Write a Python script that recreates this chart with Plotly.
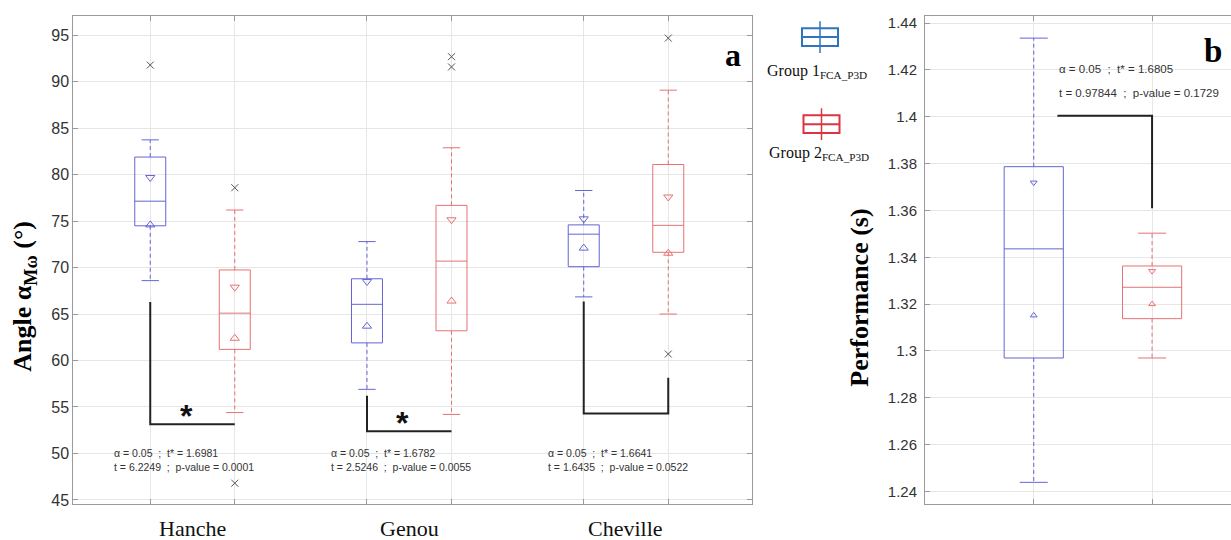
import plotly.graph_objects as go

# ---------------- data: panel a ----------------
categories = ["Hanche", "Genou", "Cheville"]

g1_q1 = [74.5, 61.9, 70.1]
g1_med = [77.15, 66.05, 73.6]
g1_q3 = [81.9, 68.8, 74.6]
g1_lo = [68.6, 56.9, 66.85]
g1_hi = [83.75, 72.8, 78.3]
g1_notch_lo = [74.6, 63.7, 72.1]
g1_notch_hi = [79.7, 68.5, 75.25]
g1_outliers = [[91.8], [], []]

g2_q1 = [61.2, 63.2, 71.65]
g2_med = [65.1, 70.7, 74.55]
g2_q3 = [69.75, 76.7, 81.1]
g2_lo = [54.4, 54.2, 65.0]
g2_hi = [76.2, 82.9, 89.1]
g2_notch_lo = [62.4, 66.4, 71.55]
g2_notch_hi = [67.9, 75.15, 77.6]
g2_outliers = [[78.6, 46.8], [92.7, 91.6], [94.7, 60.7]]

t_crit = ["1.6981", "1.6782", "1.6641"]
t_val = ["6.2249", "2.5246", "1.6435"]
p_val = ["0.0001", "0.0055", "0.0522"]
alpha = "0.05"
significant = [True, True, False]
bracket_left_top = [66.3, 56.2, 66.35]
bracket_base = [53.15, 52.4, 54.3]
bracket_right_top = [None, None, 58.15]

# ---------------- data: panel b ----------------
perf_q1 = [1.297, 1.3138]
perf_med = [1.3436, 1.3272]
perf_q3 = [1.3787, 1.3363]
perf_lo = [1.2439, 1.297]
perf_hi = [1.4336, 1.3503]
perf_notch_lo = [1.3152, 1.32]
perf_notch_hi = [1.3719, 1.3341]
perf_t_crit = "1.6805"
perf_t_val = "0.97844"
perf_p_val = "0.1729"
perf_bracket_top = 1.4005
perf_bracket_bottom = 1.361

legend_names = ["Group 1<sub>FCA_P3D</sub>", "Group 2<sub>FCA_P3D</sub>"]

# ---------------- styles ----------------
BLUE = "#6464d6"
RED = "#e67272"
GRAY_OUT = "#555555"
FRAME = "#9a9a9a"
GRID = "#e6e6e6"
SANS = "Liberation Sans"
SERIF = "Liberation Serif"
W_PX, H_PX = 1231, 540

fig = go.Figure()


def add_boxes(xs, q1, med, q3, lo, hi, nlo, nhi, outl, color, xa, ya, bw, cap, msize):
    fig.add_trace(go.Box(
        x=xs, q1=q1, median=med, q3=q3, lowerfence=q1, upperfence=q3,
        width=bw, whiskerwidth=0, boxpoints=False,
        line=dict(color=color, width=1), fillcolor="rgba(0,0,0,0)",
        xaxis=xa, yaxis=ya, showlegend=False, hoverinfo="skip"))
    wx, wy, cx, cy = [], [], [], []
    for x, a, b, l, h in zip(xs, q1, q3, lo, hi):
        wx += [x, x, None, x, x, None]
        wy += [b, h, None, a, l, None]
        cx += [x - cap / 2, x + cap / 2, None, x - cap / 2, x + cap / 2, None]
        cy += [h, h, None, l, l, None]
    fig.add_trace(go.Scatter(x=wx, y=wy, mode="lines",
                             line=dict(color=color, width=1, dash="4px,3px"),
                             xaxis=xa, yaxis=ya, showlegend=False, hoverinfo="skip"))
    fig.add_trace(go.Scatter(x=cx, y=cy, mode="lines",
                             line=dict(color=color, width=1),
                             xaxis=xa, yaxis=ya, showlegend=False, hoverinfo="skip"))
    fig.add_trace(go.Scatter(x=xs, y=nhi, mode="markers",
                             marker=dict(symbol="triangle-down-open", size=msize,
                                         color=color, line=dict(width=1, color=color)),
                             xaxis=xa, yaxis=ya, showlegend=False, hoverinfo="skip"))
    fig.add_trace(go.Scatter(x=xs, y=nlo, mode="markers",
                             marker=dict(symbol="triangle-up-open", size=msize,
                                         color=color, line=dict(width=1, color=color)),
                             xaxis=xa, yaxis=ya, showlegend=False, hoverinfo="skip"))
    if outl is not None:
        ox, oy = [], []
        for x, vals in zip(xs, outl):
            for v in vals:
                ox.append(x)
                oy.append(v)
        fig.add_trace(go.Scatter(x=ox, y=oy, mode="markers",
                                 marker=dict(symbol="x-thin-open", size=7, color=GRAY_OUT,
                                             line=dict(width=1, color=GRAY_OUT)),
                                 xaxis=xa, yaxis=ya, showlegend=False, hoverinfo="skip"))


# ---------------- panel a ----------------
OFF = 0.195
BW = 0.143
CAP = 0.08
xc = [i + 1 for i in range(len(categories))]
x1 = [c - OFF for c in xc]
x2 = [c + OFF for c in xc]

add_boxes(x1, g1_q1, g1_med, g1_q3, g1_lo, g1_hi, g1_notch_lo, g1_notch_hi,
          g1_outliers, BLUE, "x", "y", BW, CAP, 8)
add_boxes(x2, g2_q1, g2_med, g2_q3, g2_lo, g2_hi, g2_notch_lo, g2_notch_hi,
          g2_outliers, RED, "x", "y", BW, CAP, 8)

# significance brackets
bx, by = [], []
for a, b, top, base, rtop in zip(x1, x2, bracket_left_top, bracket_base, bracket_right_top):
    bx += [a, a, b]
    by += [top, base, base]
    if rtop is not None:
        bx += [b]
        by += [rtop]
    bx.append(None)
    by.append(None)
fig.add_trace(go.Scatter(x=bx, y=by, mode="lines", line=dict(color="#222222", width=2),
                         xaxis="x", yaxis="y", showlegend=False, hoverinfo="skip"))

annotations = []
for c, sig, base, tc, tv, pv in zip(xc, significant, bracket_base, t_crit, t_val, p_val):
    if sig:
        annotations.append(dict(x=c - 0.03, y=base + 1.65, xref="x", yref="y",
                                xanchor="center", yanchor="middle",
                                text="<b>*</b>", showarrow=False,
                                font=dict(family=SANS, size=32, color="#111111"),
                                yshift=-7))
    annotations.append(dict(x=c - 0.37, y=50.0, xref="x", yref="y",
                            xanchor="left", yanchor="middle",
                            text=f"α = {alpha}  ;  t* = {tc}", showarrow=False,
                            font=dict(family=SANS, size=10.5, color="#333333")))
    annotations.append(dict(x=c - 0.37, y=48.5, xref="x", yref="y",
                            xanchor="left", yanchor="middle",
                            text=f"t = {tv}  ;  p-value = {pv}", showarrow=False,
                            font=dict(family=SANS, size=10.5, color="#333333")))
    annotations.append(dict(x=c, y=0, xref="x", yref="y domain",
                            xanchor="center", yanchor="middle",
                            text=categories[c - 1], showarrow=False, yshift=-24,
                            font=dict(family=SERIF, size=22, color="#111111")))

annotations.append(dict(x=732.7 / W_PX, y=1 - 53.4 / H_PX, xref="paper", yref="paper",
                        xanchor="center", yanchor="middle",
                        text="<b>a</b>", showarrow=False,
                        font=dict(family=SERIF, size=32, color="#000000")))
annotations.append(dict(x=24 / W_PX, y=1 - 298 / H_PX, xref="paper", yref="paper",
                        xanchor="center", yanchor="middle",
                        text="<b>Angle α<sub>Mω</sub> (°)</b>", textangle=-90, showarrow=False,
                        font=dict(family=SERIF, size=26, color="#000000")))

# ---------------- panel b ----------------
PB_X = [1, 2]
add_boxes([PB_X[0]], [perf_q1[0]], [perf_med[0]], [perf_q3[0]], [perf_lo[0]], [perf_hi[0]],
          [perf_notch_lo[0]], [perf_notch_hi[0]], None, BLUE, "x2", "y2", 0.5, 0.237, 6)
add_boxes([PB_X[1]], [perf_q1[1]], [perf_med[1]], [perf_q3[1]], [perf_lo[1]], [perf_hi[1]],
          [perf_notch_lo[1]], [perf_notch_hi[1]], None, RED, "x2", "y2", 0.5, 0.237, 6)

fig.add_trace(go.Scatter(x=[PB_X[0] + 0.2, PB_X[1], PB_X[1]],
                         y=[perf_bracket_top, perf_bracket_top, perf_bracket_bottom],
                         mode="lines", line=dict(color="#222222", width=2),
                         xaxis="x2", yaxis="y2", showlegend=False, hoverinfo="skip"))
annotations.append(dict(x=PB_X[0] + 0.2, y=1.4202, xref="x2", yref="y2",
                        xanchor="left", yanchor="middle",
                        text=f"α = {alpha}  ;  t* = {perf_t_crit}", showarrow=False,
                        font=dict(family=SANS, size=11.5, color="#333333")))
annotations.append(dict(x=PB_X[0] + 0.2, y=1.4102, xref="x2", yref="y2",
                        xanchor="left", yanchor="middle",
                        text=f"t = {perf_t_val}  ;  p-value = {perf_p_val}", showarrow=False,
                        font=dict(family=SANS, size=11.5, color="#333333")))
annotations.append(dict(x=1213 / W_PX, y=1 - 50 / H_PX, xref="paper", yref="paper",
                        xanchor="center", yanchor="middle",
                        text="<b>b</b>", showarrow=False,
                        font=dict(family=SERIF, size=33, color="#000000")))
annotations.append(dict(x=860 / W_PX, y=1 - 299 / H_PX, xref="paper", yref="paper",
                        xanchor="center", yanchor="middle",
                        text="<b>Performance (s)</b>", textangle=-90, showarrow=False,
                        font=dict(family=SERIF, size=26, color="#000000")))

# ---------------- legend (custom glyphs) ----------------
shapes = []
leg = [("#2f74c0", 820, 35.5, 70), ("#dc3440", 821.5, 123.5, 153)]
for (col, cx, cy, ty), name in zip(leg, legend_names):
    W, H, V = 36, 18, 32
    shapes.append(dict(type="rect", xref="paper", yref="paper",
                       x0=(cx - W / 2) / W_PX, x1=(cx + W / 2) / W_PX,
                       y0=1 - (cy + H / 2) / H_PX, y1=1 - (cy - H / 2) / H_PX,
                       line=dict(color=col, width=2)))
    shapes.append(dict(type="line", xref="paper", yref="paper",
                       x0=(cx - W / 2) / W_PX, x1=(cx + W / 2) / W_PX,
                       y0=1 - cy / H_PX, y1=1 - cy / H_PX, line=dict(color=col, width=2)))
    shapes.append(dict(type="line", xref="paper", yref="paper",
                       x0=cx / W_PX, x1=cx / W_PX,
                       y0=1 - (cy + V / 2) / H_PX, y1=1 - (cy - V / 2) / H_PX,
                       line=dict(color=col, width=1.5)))
    annotations.append(dict(x=(cx - 3) / W_PX, y=1 - ty / H_PX, xref="paper", yref="paper",
                            xanchor="center", yanchor="middle",
                            text=name, showarrow=False,
                            font=dict(family=SERIF, size=16, color="#111111")))

axis_common = dict(showline=True, linecolor=FRAME, linewidth=1, ticks="inside",
                   tickcolor=FRAME, ticklen=5, gridcolor=GRID, gridwidth=1,
                   zeroline=False)

fig.update_layout(
    width=W_PX, height=H_PX,
    margin=dict(l=0, r=0, t=0, b=0),
    paper_bgcolor="white", plot_bgcolor="white",
    showlegend=False,
    xaxis=dict(domain=[73.3 / W_PX, 751.7 / W_PX], range=[0.45, 3.58],
               tickvals=x1 + x2, showticklabels=False, showgrid=True,
               mirror="ticks", anchor="y", **axis_common),
    yaxis=dict(domain=[1 - 508 / H_PX, 1 - 13.8 / H_PX], range=[44.52, 97.12],
               tick0=0, dtick=5, mirror="ticks", anchor="x",
               tickfont=dict(family=SANS, size=16, color="#333333"),
               **axis_common),
    xaxis2=dict(domain=[925 / W_PX, 1.0], range=[0.081, 2.667],
                tickvals=PB_X, showticklabels=False, showgrid=True,
                mirror="ticks", anchor="y2", **axis_common),
    yaxis2=dict(domain=[1 - 508 / H_PX, 1 - 14.5 / H_PX], range=[1.2345, 1.4429],
                tick0=0, dtick=0.02, mirror=False, anchor="x2",
                ticklabelstandoff=4,
                tickfont=dict(family=SANS, size=15, color="#333333"),
                **axis_common),
    annotations=annotations,
    shapes=shapes,
)

fig.write_html("out.html", config={"displayModeBar": False},
               post_script="document.body.style.margin='0px';")
